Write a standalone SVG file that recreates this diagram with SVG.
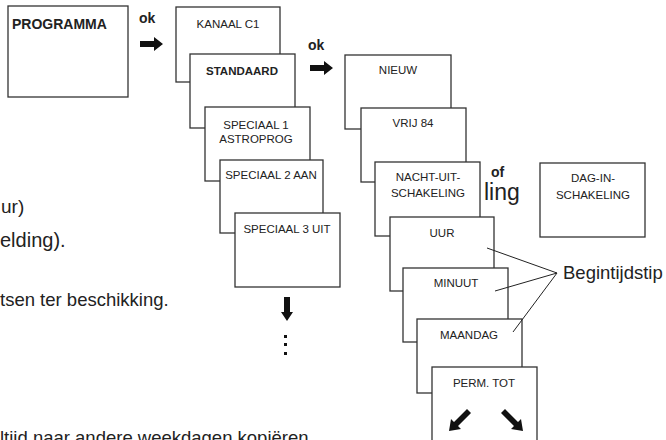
<svg xmlns="http://www.w3.org/2000/svg" width="666" height="440" viewBox="0 0 666 440">
<defs>
<style>
.box{fill:#fff;stroke:#333;stroke-width:1.3}
.lbl{font-family:"Liberation Sans",Arial,sans-serif;font-size:11.5px;fill:#222;text-anchor:middle}
.b{font-weight:bold}
.body{font-family:"Liberation Sans",Arial,sans-serif;font-size:18.5px;fill:#222}
.ok{font-family:"Liberation Sans",Arial,sans-serif;font-size:14px;font-weight:bold;fill:#222}
.arr{fill:#111}
.conn{stroke:#222;stroke-width:1;fill:none}
</style>
</defs>
<rect width="666" height="440" fill="#fff"/>

<g id="texts">
<text class="body" x="1" y="213" style="font-size:19px">ur)</text>
<text class="body" x="0" y="247" style="font-size:20px">elding).</text>
<text class="body" x="0" y="306">tsen ter beschikking.</text>
<text class="body" x="0" y="444">ltijd naar andere weekdagen kopiëren</text>
<text class="ok" x="139" y="23">ok</text>
<text class="ok" x="308" y="50">ok</text>
<text class="ok" x="491" y="177">of</text>
<text class="body" x="484" y="200" style="font-size:23px">ling</text>
<text class="body" x="563" y="279">Begintijdstip</text>
</g>

<g id="programma"><rect class="box" x="8" y="6" width="120" height="91"/><text class="lbl b" x="12" y="29" style="text-anchor:start;font-size:14px">PROGRAMMA</text></g>

<g id="kanaal"><rect class="box" x="176" y="7" width="104" height="75"/><text class="lbl" x="228" y="28">KANAAL C1</text></g>
<g id="standaard"><rect class="box" x="190" y="54" width="105" height="74"/><text class="lbl b" x="242" y="75">STANDAARD</text></g>
<g id="speciaal1"><rect class="box" x="205" y="107" width="105" height="74"/><text class="lbl" x="256" y="129">SPECIAAL 1</text><text class="lbl" x="256" y="143">ASTROPROG</text></g>
<g id="speciaal2"><rect class="box" x="220" y="160" width="103" height="73"/><text class="lbl" x="271" y="179">SPECIAAL 2 AAN</text></g>
<g id="speciaal3"><rect class="box" x="235" y="213" width="105" height="74"/><text class="lbl" x="287" y="233">SPECIAAL 3 UIT</text></g>

<g id="nieuw"><rect class="box" x="345" y="55" width="106" height="74"/><text class="lbl" x="398" y="74">NIEUW</text></g>
<g id="vrij84"><rect class="box" x="361" y="108" width="105" height="74"/><text class="lbl" x="413" y="127">VRIJ 84</text></g>
<g id="nacht"><rect class="box" x="375" y="162" width="105" height="74"/><text class="lbl" x="428" y="181">NACHT-UIT-</text><text class="lbl" x="428" y="197">SCHAKELING</text></g>
<g id="dag"><rect class="box" x="540" y="163" width="105" height="74"/><text class="lbl" x="593" y="182">DAG-IN-</text><text class="lbl" x="593" y="199">SCHAKELING</text></g>
<g id="uur"><rect class="box" x="390" y="217" width="104" height="74"/><text class="lbl" x="442" y="237">UUR</text></g>
<g id="minuut"><rect class="box" x="403" y="268" width="105" height="74"/><text class="lbl" x="456" y="287">MINUUT</text></g>
<g id="maandag"><rect class="box" x="417" y="319" width="105" height="74"/><text class="lbl" x="469" y="339">MAANDAG</text></g>
<g id="permtot"><rect class="box" x="432" y="367" width="105" height="90"/><text class="lbl" x="484" y="387">PERM. TOT</text>
<polygon class="arr" points="467,409 471,413 458,426 461,429 449,431 451,419 454,422"/>
<polygon class="arr" points="505,409 501,413 514,426 511,429 523,431 521,419 518,422"/>
</g>

<g id="connectors">
<polygon class="arr" points="140,41 154,41 154,37 163,44 154,51 154,47 140,47"/>
<polygon class="arr" points="310,65 324,65 324,61 333,68 324,75 324,71 310,71"/>
<polygon class="arr" points="284,297 290,297 290,312 293,312 287,321 281,312 284,312"/>
<rect class="arr" x="284" y="335" width="3" height="3"/>
<rect class="arr" x="284" y="343" width="3" height="3"/>
<rect class="arr" x="284" y="352" width="3" height="3"/>
<polyline class="conn" points="487,248 557,273 495,291"/>
<line class="conn" x1="557" y1="273" x2="513" y2="332"/>
</g>
</svg>
